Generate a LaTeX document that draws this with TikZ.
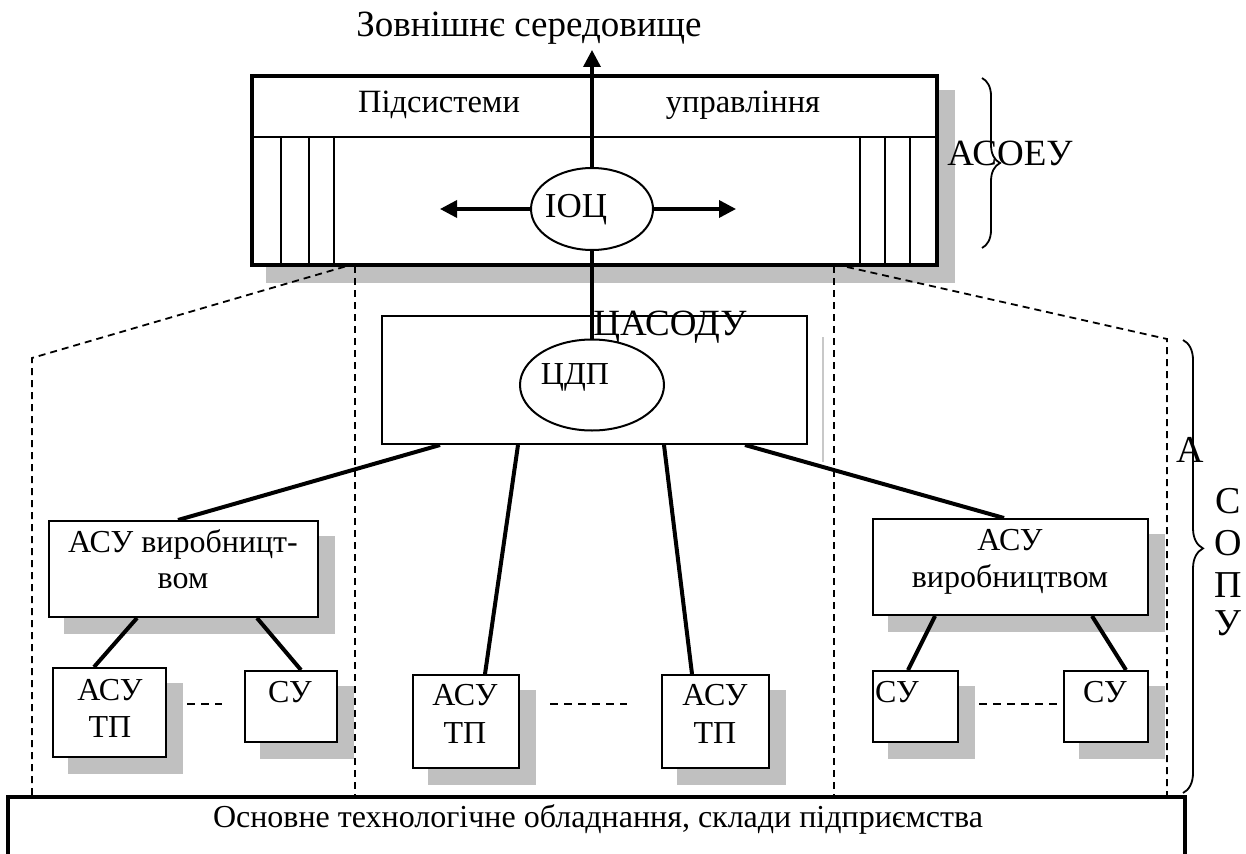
\documentclass[tikz,border=0pt]{standalone}
\usepackage{fontspec}
\setmainfont{Liberation Serif}
\usetikzlibrary{arrows.meta,shapes.geometric,decorations.pathreplacing,calc}
\definecolor{shgray}{HTML}{C0C0C0}
\definecolor{ghost}{HTML}{C8C8C8}
\pgfdeclarelayer{bg}
\pgfdeclarelayer{mid}
\pgfsetlayers{bg,mid,main}
\begin{document}
\begin{tikzpicture}[x=1pt,y=-1pt,
  box/.style={draw, line width=2pt, fill=white, inner sep=0pt, rectangle},
  thickbox/.style={draw, line width=3.5pt, fill=white, inner sep=0pt, rectangle},
  oval/.style={draw, ellipse, line width=2pt, fill=white, inner sep=0pt},
  txt/.style={font=\fontsize{32}{36}\selectfont, inner sep=0pt, anchor=base},
  big/.style={font=\fontsize{37}{40}\selectfont, inner sep=0pt, anchor=base},
  link/.style={line width=4pt},
  guide/.style={line width=1.8pt, dash pattern=on 7pt off 5pt},
  dots/.style={line width=2pt, dash pattern=on 8pt off 6pt},
  strip/.style={line width=1.5pt},
  arrowline/.style={line width=3.5pt, -{Triangle[length=17pt,width=17pt]}},
  bracestyle/.style={line width=1.8pt, decorate, decoration={brace, amplitude=#1}},
]
\useasboundingbox (0,0) rectangle (1246,853);

% ---------- boxes ----------
\node[thickbox, minimum width=685pt, minimum height=189pt] (asoeu) at (594.5,170.5) {};
\node[box, minimum width=425pt, minimum height=128pt] (casodu) at (594.5,380) {};
\node[oval, minimum width=122pt, minimum height=82pt] (ioc) at (592,209) {};
\node[oval, minimum width=144pt, minimum height=91pt] (cdp) at (592,385) {};
\node[box, minimum width=269pt, minimum height=96pt] (lprod) at (183.5,569) {};
\node[box, minimum width=275pt, minimum height=96pt] (rprod) at (1010.5,567) {};
\node[box, minimum width=113pt, minimum height=89pt] (ltp) at (109.5,712.5) {};
\node[box, minimum width=92pt, minimum height=71pt] (lsu) at (291,706.5) {};
\node[box, minimum width=106pt, minimum height=93pt] (mtpa) at (466,721.5) {};
\node[box, minimum width=107pt, minimum height=93pt] (mtpb) at (715.5,721.5) {};
\node[box, minimum width=85pt, minimum height=71pt] (rsua) at (915.5,706.5) {};
\node[box, minimum width=84pt, minimum height=71pt] (rsub) at (1106,706.5) {};
\node[draw, line width=4pt, fill=white, inner sep=0pt, minimum width=1177pt, minimum height=68pt] (base) at (596.5,831) {};

% ---------- shadows ----------
\begin{pgfonlayer}{bg}
\foreach \n in {asoeu,lprod,rprod,ltp,lsu,mtpa,mtpb,rsua,rsub}
  \fill[shgray] ([shift={(16,16)}]\n.south west) rectangle ([shift={(16,16)}]\n.north east);
\draw[ghost, line width=1.5pt] (823,337) -- (823,462);
\end{pgfonlayer}

% ---------- dashed boundaries ----------
\begin{pgfonlayer}{mid}
\draw[guide] (32,795) -- (32,358) -- (347,266);
\draw[guide] (355,266) -- (355,795);
\draw[guide] (834,266) -- (834,795);
\draw[guide] (847,267) -- (1167,339) -- (1167,795);
\end{pgfonlayer}

% ---------- top box internals ----------
\draw[strip] (asoeu.west |- 0,137) -- (asoeu.east |- 0,137);
\foreach \x in {281,309,334,860,885,910}
  \draw[strip] (\x,137) -- (\x,0 |- asoeu.south);

% ---------- texts ----------
\node[txt, font=\fontsize{37}{40}\selectfont] (title) at (529,37) {Зовнішнє середовище};
\node[txt, font=\fontsize{32.5}{36}\selectfont] (t1) at (439,113) {Підсистеми};
\node[txt, font=\fontsize{32.5}{36}\selectfont] (t2) at (743,113) {управління};
\node[txt, font=\fontsize{35}{38}\selectfont] (tioc) at (576,217) {ІОЦ};
\node[big] (tcasodu) at (670,335) {ЦАСОДУ};
\node[txt] (tcdp) at (575,384) {ЦДП};
\node[big] (tasoeu) at (1010,166) {АСОЕУ};
\node[txt] (lp1) at (183,552) {АСУ виробницт-};
\node[txt] (lp2) at (183,588) {вом};
\node[txt] (rp1) at (1010,550) {АСУ};
\node[txt] (rp2) at (1010,587) {виробництвом};
\node[txt] (ltp1) at (110,700) {АСУ};
\node[txt] (ltp2) at (110,737) {ТП};
\node[txt] (lsut) at (290,702) {СУ};
\node[txt] (ma1) at (465,705) {АСУ};
\node[txt] (ma2) at (465,743) {ТП};
\node[txt] (mb1) at (715,705) {АСУ};
\node[txt] (mb2) at (715,743) {ТП};
\node[txt] (rsuat) at (897,702) {СУ};
\node[txt] (rsubt) at (1105,702) {СУ};
\node[txt] (tbase) at (598,827) {Основне технологічне обладнання, склади підприємства};
\node[big, font=\fontsize{38}{40}\selectfont] (sa) at (1190,462) {А};
\node[big, font=\fontsize{38}{40}\selectfont] (sc) at (1228,513) {С};
\node[big, font=\fontsize{38}{40}\selectfont] (so) at (1228,555) {О};
\node[big, font=\fontsize{38}{40}\selectfont] (sp) at (1228,597) {П};
\node[big, font=\fontsize{38}{40}\selectfont] (sy) at (1228,635) {У};

% ---------- arrows ----------
\coordinate (envpt) at (592,50);
\coordinate (lpt) at (440,209);
\coordinate (rpt) at (736,209);
\draw[arrowline] (ioc.north) -- (envpt);
\draw[arrowline] (ioc.west) -- (lpt);
\draw[arrowline] (ioc.east) -- (rpt);
\draw[line width=3.5pt] (ioc.south) -- (cdp.north);

% ---------- links ----------
\draw[link] (440,0 |- casodu.south) -- (178,0 |- lprod.north);
\draw[link] (518,0 |- casodu.south) -- (485,0 |- mtpa.north);
\draw[link] (664,0 |- casodu.south) -- (692,0 |- mtpb.north);
\draw[link] (745,0 |- casodu.south) -- (1004,0 |- rprod.north);
\draw[link] (137,0 |- lprod.south) -- (94,0 |- ltp.north);
\draw[link] (257,0 |- lprod.south) -- (301,0 |- lsu.north);
\draw[link] (935,0 |- rprod.south) -- (908,0 |- rsua.north);
\draw[link] (1092,0 |- rprod.south) -- (1126,0 |- rsub.north);

% ---------- ellipsis dashes ----------
\draw[dots] (187,704) -- (222,704);
\draw[dots] (550,704) -- (627,704);
\draw[dots] (979,704) -- (1057,704);

% ---------- braces ----------
\draw[bracestyle=18pt] (982,78) -- (982,248);
\draw[line width=1.8pt, decorate, decoration={brace, amplitude=20pt, aspect=0.46}] (1183,340) -- (1183,793);
\end{tikzpicture}
\end{document}
